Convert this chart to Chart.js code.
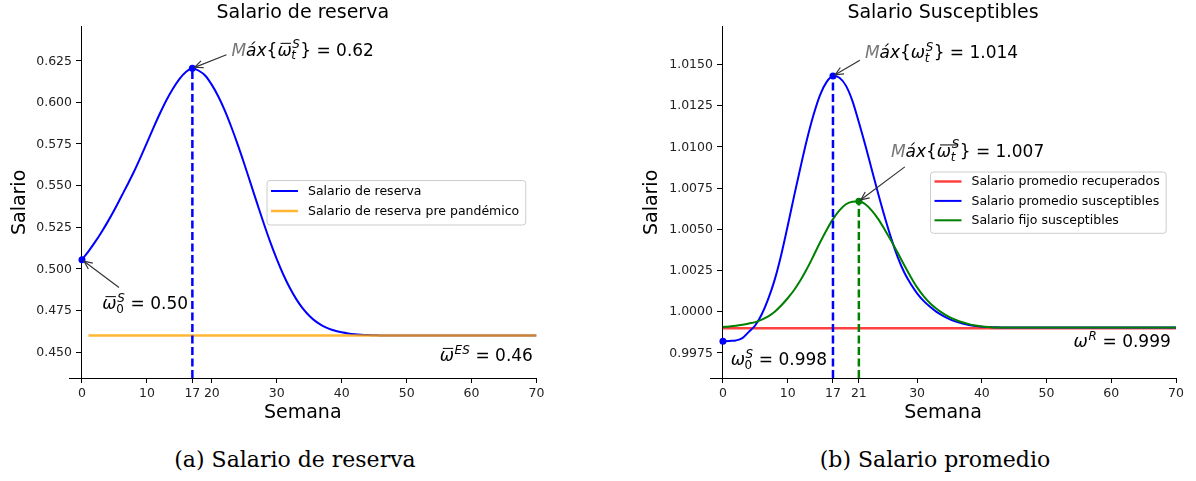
<!DOCTYPE html>
<html><head><meta charset="utf-8">
<script src="https://cdn.jsdelivr.net/npm/chart.js@4.4.1/dist/chart.umd.min.js"></script>
<style>
html,body{margin:0;padding:0;background:#fff;}
#wrap{position:relative;width:1196px;height:481px;overflow:hidden;background:#fff;}
canvas{position:absolute;top:0;}
.cap{position:absolute;top:446px;width:600px;text-align:center;font-family:'DejaVu Serif',serif;font-size:22px;line-height:28px;color:#000;}
</style></head><body>
<div id="wrap">
<canvas id="c1" width="598" height="430" style="left:0"></canvas>
<canvas id="c2" width="598" height="430" style="left:598px"></canvas>
<div class="cap" style="left:-5px">(a) Salario de reserva</div>
<div class="cap" style="left:635px">(b) Salario promedio</div>
</div>
<script>
// ---------------- DATA ----------------
const weeks = [0,1,2,3,4,5,6,7,8,9,10,11,12,13,14,15,16,17,18,19,20,21,22,23,24,25,26,27,28,29,30,31,32,33,34,35,36,37,38,39,40,41,42,43,44,45,46,47,48,49,50,51,52,53,54,55,56,57,58,59,60,61,62,63,64,65,66,67,68,69,70];

const salarioReserva = [
 0.5055,0.5105,0.5160,0.5220,0.5285,0.5355,0.5430,0.5505,0.5583,0.5668,
 0.5757,0.5847,0.5933,0.6013,0.6082,0.6140,0.6182,0.6205,0.6190,0.6160,
 0.6105,0.6035,0.5950,0.5852,0.5745,0.5630,0.5510,0.5390,0.5272,0.5160,
 0.5058,0.4966,0.4886,0.4818,0.4762,0.4718,0.4684,0.4659,0.4641,0.4628,
 0.4619,0.4612,0.4607,0.4604,0.4602,0.4601,0.4600,0.4600,0.4600,0.4600,
 0.4600,0.4600,0.4600,0.4600,0.4600,0.4600,0.4600,0.4600,0.4600,0.4600,
 0.4600,0.4600,0.4600,0.4600,0.4600,0.4600,0.4600,0.4600,0.4600,0.4600,0.4600];
const preWeeks = [1, 70];
const salarioPrePandemico = [0.46, 0.46];

const salarioPromedioSusceptibles = [
 0.99821,0.99823,0.99826,0.99840,0.99878,0.99918,0.99985,1.00078,1.00195,1.00345,
 1.00520,1.00703,1.00880,1.01048,1.01195,1.01315,1.01393,1.01430,1.01420,1.01372,
 1.01280,1.01150,1.01010,1.00862,1.00715,1.00575,1.00445,1.00332,1.00240,1.00170,
 1.00112,1.00066,1.00030,0.99999,0.99975,0.99955,0.99940,0.99928,0.99919,0.99913,
 0.99909,0.99907,0.99906,0.99905,0.99905,0.99904,0.99904,0.99904,0.99904,0.99904,
 0.99904,0.99904,0.99904,0.99904,0.99904,0.99904,0.99904,0.99904,0.99904,0.99904,
 0.99904,0.99904,0.99904,0.99904,0.99904,0.99904,0.99904,0.99904,0.99904,0.99904,0.99904];
const salarioFijoSusceptibles = [
 0.99908,0.99911,0.99915,0.99921,0.99929,0.99937,0.99952,0.99972,1.00000,1.00038,
 1.00082,1.00132,1.00192,1.00262,1.00340,1.00420,1.00495,1.00562,1.00615,1.00652,
 1.00668,1.00670,1.00652,1.00614,1.00562,1.00498,1.00430,1.00358,1.00284,1.00213,
 1.00148,1.00095,1.00052,1.00018,0.99990,0.99968,0.99950,0.99936,0.99925,0.99917,
 0.99911,0.99907,0.99905,0.99904,0.99904,0.99904,0.99904,0.99904,0.99904,0.99904,
 0.99904,0.99904,0.99904,0.99904,0.99904,0.99904,0.99904,0.99904,0.99904,0.99904,
 0.99904,0.99904,0.99904,0.99904,0.99904,0.99904,0.99904,0.99904,0.99904,0.99904,0.99904];
const recWeeks = [0, 70];
const salarioRecuperados = [0.999, 0.999];

const xTicksLeft = [0,10,17,20,30,40,50,60,70];
const xTicksRight = [0,10,17,21,30,40,50,60,70];
const yTicksLeft = [0.450,0.475,0.500,0.525,0.550,0.575,0.600,0.625];
const yTicksRight = [0.9975,1.0000,1.0025,1.0050,1.0075,1.0100,1.0125,1.0150];

// ---------------- helpers ----------------
const argmax = a => a.reduce((bi,v,i,arr)=> v>arr[bi]?i:bi, 0);
const iMaxL = argmax(salarioReserva);
const iMaxB = argmax(salarioPromedioSusceptibles);
const iMaxG = argmax(salarioFijoSusceptibles);
const pts = (xs, ys) => xs.map((x,i)=>({x:x, y:ys[i]}));

const Y_L = {min:0.4344, max:0.6454};
const Y_R = {min:0.99598, max:1.01729};

const MAXP = [{t:'M',it:true,color:'#777'},{t:'áx',it:true},{t:'{'}];
const leftNotes = [
 {parts:[...MAXP,{t:'ω',it:true,bar:true,sub:'t',sup:'S'},{t:'} = 0.62'}], x:23.02, y:0.63179, align:'left',
  from:{x:22.25,y:0.6286}, to:{x:weeks[iMaxL], y:salarioReserva[iMaxL]}},
 {parts:[{t:'ω',it:true,bar:true,sub:'0',sup:'S'},{t:' = 0.50'}], x:3.14, y:0.4796, align:'left',
  from:{x:5.7,y:0.4888}, to:{x:weeks[0], y:salarioReserva[0]}},
 {parts:[{t:'ω',it:true,bar:true,sup:'ES'},{t:' = 0.46'}], x:69.45, y:0.4485, align:'right'}
];
const rightNotes = [
 {parts:[...MAXP,{t:'ω',it:true,sub:'t',sup:'S'},{t:'} = 1.014'}], x:21.93, y:1.01577, align:'left',
  from:{x:21.16,y:1.01526}, to:{x:weeks[iMaxB], y:salarioPromedioSusceptibles[iMaxB]}},
 {parts:[...MAXP,{t:'ω',it:true,bar:true,barWide:true,sub:'t',sup:'S'},{t:'} = 1.007'}], x:25.95, y:1.00975, align:'left',
  from:{x:28.1,y:1.00879}, to:{x:weeks[iMaxG], y:salarioFijoSusceptibles[iMaxG]}},
 {parts:[{t:'ω',it:true,sub:'0',sup:'S'},{t:' = 0.998'}], x:1.19, y:0.99712, align:'left'},
 {parts:[{t:'ω',it:true,sup:'R'},{t:' = 0.999'}], x:69.2, y:0.99822, align:'right'}
];

const FAM = 'DejaVu Sans';
Chart.defaults.font.family = FAM;
const fnt = (it,size)=> (it?'italic ':'')+size+'px "'+FAM+'"';
const isLetter = s => /[A-Za-z]/.test(s);

function scriptW(ctx,p,size){
  let ws=0,wb=0;
  if(p.sup){ctx.font=fnt(isLetter(p.sup),size*0.7); ws=ctx.measureText(p.sup).width;}
  if(p.sub){ctx.font=fnt(isLetter(p.sub),size*0.7); wb=ctx.measureText(p.sub).width;}
  return (p.sup||p.sub)? Math.max(ws,wb)+size*0.06 : 0;
}
function mathWidth(ctx,parts,size){
  let w=0;
  for(const p of parts){ ctx.font=fnt(p.it,size); w+=ctx.measureText(p.t).width; w+=scriptW(ctx,p,size); }
  return w;
}
function drawMath(ctx,parts,x,yc,align,size,color){
  const total=mathWidth(ctx,parts,size);
  let cx = align==='right'? x-total : x;
  const base = yc + size*0.36;
  ctx.textAlign='left'; ctx.textBaseline='alphabetic';
  for(const p of parts){
    ctx.font=fnt(p.it,size); ctx.fillStyle=p.color||color;
    ctx.fillText(p.t,cx,base);
    const w=ctx.measureText(p.t).width;
    const sw=scriptW(ctx,p,size);
    if(p.bar){
      ctx.strokeStyle=color; ctx.lineWidth=1;
      const bx1=cx+w*0.22, bx2=cx+w*(p.barWide?1.0:0.95)+(p.barWide?sw*0.7:0);
      const by=base-size*0.72;
      ctx.beginPath(); ctx.moveTo(bx1,by); ctx.lineTo(bx2,by); ctx.stroke();
    }
    ctx.fillStyle=color;
    if(p.sup){ ctx.font=fnt(isLetter(p.sup),size*0.7); ctx.fillText(p.sup,cx+w+size*0.04, base-size*(p.barWide?0.55:0.42)); }
    if(p.sub){ ctx.font=fnt(isLetter(p.sub),size*0.7); ctx.fillText(p.sub,cx+w-size*0.02, base+size*0.22); }
    cx+=w+sw;
  }
}
function arrow(ctx,x1,y1,x2,y2){
  const a=Math.atan2(y2-y1,x2-x1);
  const tx=x2-2.5*Math.cos(a), ty=y2-2.5*Math.sin(a);
  ctx.strokeStyle='#333'; ctx.lineWidth=1.2;
  ctx.beginPath(); ctx.moveTo(x1,y1); ctx.lineTo(tx,ty); ctx.stroke();
  const L=9, H=0.42;
  ctx.beginPath();
  ctx.moveTo(tx-L*Math.cos(a-H), ty-L*Math.sin(a-H));
  ctx.lineTo(tx,ty);
  ctx.lineTo(tx-L*Math.cos(a+H), ty-L*Math.sin(a+H));
  ctx.stroke();
}
function makeDecor(cfg){
  return {
    id:'decor',
    afterDatasetsDraw(chart){
      const ctx=chart.ctx, xs=chart.scales.x, ys=chart.scales.y, ca=chart.chartArea;
      ctx.save();
      // y tick labels (right-aligned left of the y axis, which sits at x = 0)
      const ax=xs.getPixelForValue(0);
      ctx.font=fnt(false,12.5); ctx.fillStyle='#222'; ctx.textAlign='right'; ctx.textBaseline='middle';
      for(const t of ys.ticks){ ctx.fillText(t.label, ax-10, ys.getPixelForValue(t.value)+0.5); }
      // y axis title
      ctx.font=fnt(false,19); ctx.fillStyle='#000'; ctx.textAlign='center'; ctx.textBaseline='middle';
      ctx.translate(cfg.yTitleX,(ca.top+ca.bottom)/2); ctx.rotate(-Math.PI/2);
      ctx.fillText(cfg.yTitle,0,0);
      ctx.restore();
      ctx.save();
      for(const a of cfg.notes){
        drawMath(ctx,a.parts,xs.getPixelForValue(a.x),ys.getPixelForValue(a.y),a.align,17,'#000');
        if(a.from){
          arrow(ctx,xs.getPixelForValue(a.from.x),ys.getPixelForValue(a.from.y),xs.getPixelForValue(a.to.x),ys.getPixelForValue(a.to.y));
        }
      }
      ctx.restore();
    },
    afterDraw(chart){
      const ctx=chart.ctx, L=cfg.legend;
      const items=chart.data.datasets.filter(d=>d.legendShow);
      ctx.save();
      ctx.font=fnt(false,12.5);
      const tw=Math.max(...items.map(d=>ctx.measureText(d.label).width));
      const bw=4.5+27+10+tw+6, bh=L.firstOff+(items.length-1)*L.rowH+L.lastOff;
      ctx.beginPath(); ctx.roundRect(L.x+0.5,L.y+0.5,bw,bh,3);
      ctx.fillStyle='rgba(255,255,255,0.85)'; ctx.fill();
      ctx.strokeStyle='#cccccc'; ctx.lineWidth=1; ctx.stroke();
      items.forEach((d,i)=>{
        const cy=L.y+L.firstOff+i*L.rowH;
        ctx.strokeStyle=d.borderColor; ctx.lineWidth=d.borderWidth;
        ctx.beginPath(); ctx.moveTo(L.x+4.5,cy); ctx.lineTo(L.x+31.5,cy); ctx.stroke();
        ctx.fillStyle='#000'; ctx.textAlign='left'; ctx.textBaseline='middle';
        ctx.fillText(d.label,L.x+41.5,cy+0.5);
      });
      ctx.restore();
    }
  };
}
function makeOptions(title, pad, yr, xTicks, yTicks, dec){
  const tickFont={family:FAM,size:12.5};
  return {
    responsive:false, animation:false, devicePixelRatio:1,
    layout:{padding:pad},
    plugins:{
      legend:{display:false}, tooltip:{enabled:false},
      title:{display:true,text:title,color:'#000',fullSize:false,
        font:{family:FAM,size:19,weight:'normal'},padding:{top:2,bottom:2}}
    },
    scales:{
      x:{type:'linear',min:-2,max:70,
        afterBuildTicks:s=>{s.ticks=xTicks.map(v=>({value:v}));},
        afterFit:s=>{s.height=50;},
        ticks:{font:tickFont,color:'#222',padding:3,autoSkip:false,maxRotation:0,callback:v=>String(v)},
        grid:{drawOnChartArea:false,drawTicks:true,tickLength:5,color:'#000',lineWidth:1},
        border:{display:true,color:'#000',width:1},
        title:{display:true,text:'Semana',color:'#000',font:{family:FAM,size:19},padding:{top:0,bottom:4}}
      },
      y:{type:'linear',position:{x:0},min:yr.min,max:yr.max,
        afterBuildTicks:s=>{s.ticks=yTicks.map(v=>({value:v}));},
        ticks:{font:tickFont,color:'rgba(0,0,0,0)',padding:5,autoSkip:false,callback:v=>Number(v).toFixed(dec)},
        grid:{drawOnChartArea:false,drawTicks:true,tickLength:5,color:'#000',lineWidth:1},
        border:{display:true,color:'#000',width:1}
      }
    }
  };
}

// ---------------- LEFT CHART ----------------
new Chart(document.getElementById('c1'),{
  type:'line',
  data:{labels:weeks,datasets:[
    {label:'Salario de reserva',data:salarioReserva,borderColor:'#0000ff',borderWidth:2,pointRadius:0,
     cubicInterpolationMode:'monotone',legendShow:true,order:2},
    {label:'Salario de reserva pre pandémico',data:pts(preWeeks,salarioPrePandemico),borderColor:'rgba(255,165,0,0.8)',
     borderWidth:2.5,pointRadius:0,legendShow:true,order:1},
    {label:'máximo',data:[{x:weeks[iMaxL],y:Y_L.min},{x:weeks[iMaxL],y:salarioReserva[iMaxL]}],borderColor:'#0000ff',
     borderWidth:2.5,borderDash:[8,3.5],pointRadius:0,order:0},
    {label:'puntos',data:[{x:weeks[iMaxL],y:salarioReserva[iMaxL]},{x:weeks[0],y:salarioReserva[0]}],showLine:false,
     pointRadius:3.5,pointBackgroundColor:'#0000ff',pointBorderWidth:0,borderColor:'#0000ff',order:-1,clip:false}
  ]},
  options:makeOptions('Salario de reserva',{left:69,right:61.5,top:0,bottom:2},Y_L,xTicksLeft,yTicksLeft,3),
  plugins:[makeDecor({yTitle:'Salario',yTitleX:20,notes:leftNotes,legend:{x:266.5,y:180,firstOff:11,rowH:20,lastOff:13.5}})]
});

// ---------------- RIGHT CHART ----------------
new Chart(document.getElementById('c2'),{
  type:'line',
  data:{labels:weeks,datasets:[
    {label:'Salario promedio recuperados',data:pts(recWeeks,salarioRecuperados),borderColor:'rgba(255,0,0,0.75)',
     borderWidth:2.5,pointRadius:0,legendShow:true,order:3},
    {label:'Salario promedio susceptibles',data:salarioPromedioSusceptibles,borderColor:'#0000ff',borderWidth:2,
     pointRadius:0,cubicInterpolationMode:'monotone',legendShow:true,order:2},
    {label:'Salario fijo susceptibles',data:salarioFijoSusceptibles,borderColor:'#008000',borderWidth:2,
     pointRadius:0,cubicInterpolationMode:'monotone',legendShow:true,order:1},
    {label:'máximo promedio',data:[{x:weeks[iMaxB],y:Y_R.min},{x:weeks[iMaxB],y:salarioPromedioSusceptibles[iMaxB]}],
     borderColor:'#0000ff',borderWidth:2.5,borderDash:[8,3.5],pointRadius:0,order:0},
    {label:'máximo fijo',data:[{x:weeks[iMaxG],y:Y_R.min},{x:weeks[iMaxG],y:salarioFijoSusceptibles[iMaxG]}],
     borderColor:'#008000',borderWidth:2.5,borderDash:[8,3.5],pointRadius:0,order:0},
    {label:'puntos promedio',data:[{x:weeks[iMaxB],y:salarioPromedioSusceptibles[iMaxB]},{x:weeks[0],y:salarioPromedioSusceptibles[0]}],
     showLine:false,pointRadius:3.5,pointBackgroundColor:'#0000ff',pointBorderWidth:0,borderColor:'#0000ff',order:-1,clip:false},
    {label:'punto fijo',data:[{x:weeks[iMaxG],y:salarioFijoSusceptibles[iMaxG]}],
     showLine:false,pointRadius:3.5,pointBackgroundColor:'#008000',pointBorderWidth:0,borderColor:'#008000',order:-1,clip:false}
  ]},
  options:makeOptions('Salario Susceptibles',{left:112,right:20,top:0,bottom:2},Y_R,xTicksRight,yTicksRight,4),
  plugins:[makeDecor({yTitle:'Salario',yTitleX:54,notes:rightNotes,legend:{x:332,y:171.5,firstOff:10,rowH:19.4,lastOff:12.5}})]
});
</script>
</body></html>
